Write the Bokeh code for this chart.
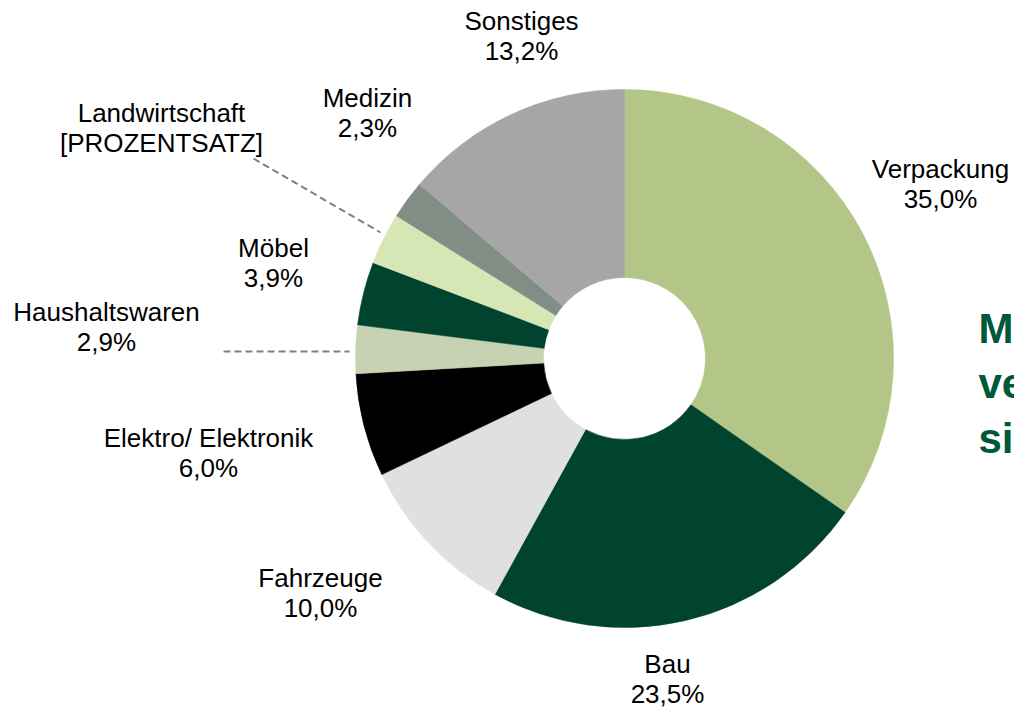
from math import radians
from bokeh.plotting import figure
from bokeh.models import Range1d, ColumnDataSource
from bokeh.core.properties import value
from bokeh.embed import file_html
from bokeh.resources import INLINE

# ---------------- data ----------------
categories = ["Verpackung", "Bau", "Fahrzeuge", "Elektro/ Elektronik", "Haushaltswaren",
              "Möbel", "Landwirtschaft", "Medizin", "Sonstiges"]
# percentages as printed in the labels
label_shares = [35.0, 23.5, 10.0, 6.0, 2.9, 3.9, None, 2.3, 13.2]
# slice sizes as drawn (measured from the wedge angles of the original)
slice_shares = [34.7, 23.3, 9.9, 6.2, 2.9, 3.8, 3.1, 2.3, 13.8]
value_labels = ["[PROZENTSATZ]" if v is None else f"{v:.1f}".replace(".", ",") + "%"
                for v in label_shares]
colors = ["#B3C687", "#00432F", "#E0E0E0", "#000000", "#C6D2B1",
          "#00432F", "#D7E6B5", "#808E86", "#A6A6A6"]
side_text = ["Me", "ve", "si"]

# ---------------- layout (screen px) ----------------
W, H = 1014, 708
CX, CY = 624, 358
R_OUT, R_IN = 269, 81
FONT = "Liberation Sans"
LABEL_SIZE = 26
SIDE_SIZE = 42
BASE_FIX = 0.35  # em correction of rendered baseline
# label anchor: (center x, baseline y of first line)
label_pos = {
    "Verpackung": (940, 178),
    "Bau": (667, 673),
    "Fahrzeuge": (320, 587),
    "Elektro/ Elektronik": (208, 447),
    "Haushaltswaren": (106, 321),
    "Möbel": (273, 257),
    "Landwirtschaft": (161, 122),
    "Medizin": (367, 107),
    "Sonstiges": (521, 30),
}
LINE_GAP = 30
leaders = [((253, 158), (380, 232)), ((223, 351), (349, 351))]


def Y(sy):
    return H - sy


p = figure(width=W, height=H, output_backend="svg", toolbar_location=None,
           x_range=Range1d(0, W), y_range=Range1d(0, H), min_border=0)
p.axis.visible = False
p.grid.visible = False
p.outline_line_color = None
p.background_fill_color = "white"
p.border_fill_color = "white"

# wedges (clockwise from 12 o'clock)
total = sum(slice_shares)
starts, ends = [], []
cum = 0.0
for v in slice_shares:
    starts.append(radians(90 - cum / total * 360))
    cum += v
    ends.append(radians(90 - cum / total * 360))
src = ColumnDataSource(dict(x=[CX] * len(slice_shares), y=[Y(CY)] * len(slice_shares),
                            start=starts, end=ends, color=colors))
p.annular_wedge(x="x", y="y", inner_radius=R_IN, outer_radius=R_OUT,
                inner_radius_units="screen", outer_radius_units="screen",
                start_angle="start", end_angle="end", direction="clock",
                fill_color="color", line_color="color", line_width=0.6, source=src)

# leader lines
for (a, b) in leaders:
    p.line([a[0], b[0]], [Y(a[1]), Y(b[1])], line_color="#808080",
           line_width=2, line_dash="7 4")

# labels
fix = BASE_FIX * LABEL_SIZE
lx, ly1, ly2 = [], [], []
for c in categories:
    x, y = label_pos[c]
    lx.append(x)
    ly1.append(Y(y - fix))
    ly2.append(Y(y + LINE_GAP - fix))
lsrc = ColumnDataSource(dict(x=lx, y1=ly1, y2=ly2, name=categories, val=value_labels))
for ycol, tcol in (("y1", "name"), ("y2", "val")):
    p.text(x="x", y=ycol, text=tcol, source=lsrc, text_align="center",
           text_baseline="alphabetic", text_font=value(FONT),
           text_font_size=f"{LABEL_SIZE}px", text_color="#000000")

# side text (cut off at the right edge, as in the original)
sfix = BASE_FIX * SIDE_SIZE
for i, t in enumerate(side_text):
    p.text(x=[978], y=[Y(343 + 55 * i - sfix)], text=[t], text_align="left",
           text_baseline="alphabetic", text_font=value(FONT),
           text_font_size=f"{SIDE_SIZE}px", text_font_style="bold", text_color="#00573A")

open("out.html", "w").write(file_html(p, INLINE))
